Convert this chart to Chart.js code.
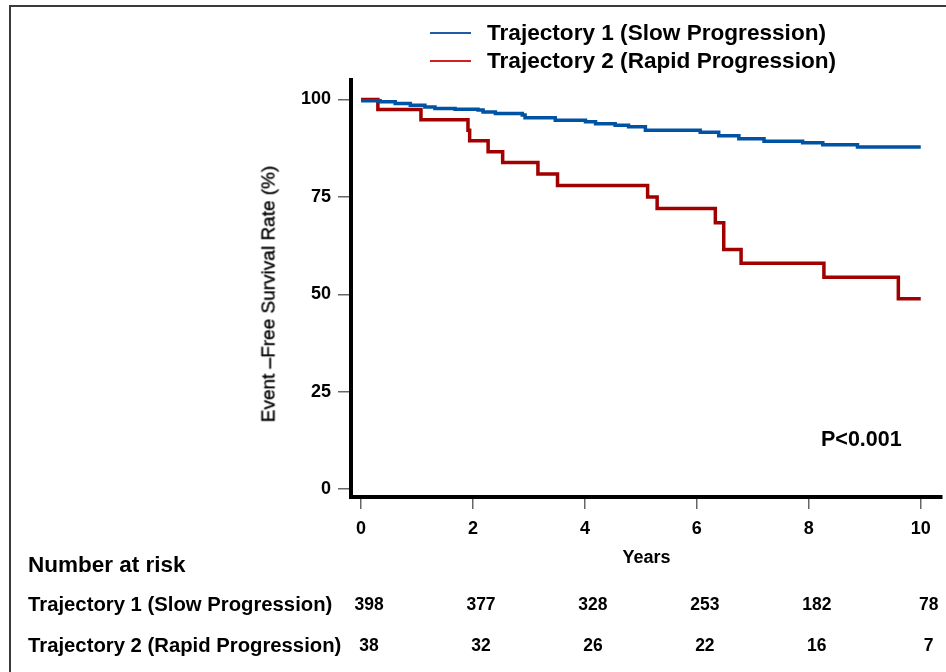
<!DOCTYPE html>
<html>
<head>
<meta charset="utf-8">
<script src="https://cdn.jsdelivr.net/npm/chart.js@4.4.1/dist/chart.umd.min.js"></script>
<style>
  html, body { margin: 0; padding: 0; background: #fff; }
  #wrap { position: relative; width: 946px; height: 672px; overflow: hidden; font-family: "Liberation Sans", Arial, sans-serif; color: #000; }
  #frame { position: absolute; left: 9px; top: 5px; right: -10px; bottom: -10px; border-left: 2px solid #3a3a3a; border-top: 2px solid #3a3a3a; }
  canvas { position: absolute; left: 0; top: 0; }
  .txt { position: absolute; font-weight: bold; white-space: nowrap; line-height: 1; }
  .leg-line { position: absolute; height: 2px; width: 41px; left: 430px; }
  .num { position: absolute; font-weight: bold; font-size: 17.5px; transform: translate(-50%, -50%); white-space: nowrap; }
  #ytitle { position: absolute; left: 268px; top: 294px; font-size: 19px; color: #000; -webkit-text-stroke: 0.35px #000; white-space: nowrap; transform: translate(-50%, -50%) rotate(-90deg); line-height: 1; }
</style>
</head>
<body>
<div id="wrap">
  <div id="frame"></div>
  <canvas id="c" width="946" height="672"></canvas>
  <div id="ytitle">Event –Free Survival Rate (%)</div>
  <div id="legend"></div>
  <div class="txt" id="pval" style="left:821px; top:429px; font-size:21.5px;">P&lt;0.001</div>
  <div class="txt" style="left:28px; top:554px; font-size:22.5px;">Number at risk</div>
  <div id="risk"></div>
</div>
<script>
// ---- Data ----
const seriesNames = ['Trajectory 1 (Slow Progression)', 'Trajectory 2 (Rapid Progression)'];
const xTickValues = [0, 2, 4, 6, 8, 10];
const yTickValues = [0, 25, 50, 75, 100];

// Kaplan-Meier step points (years, event-free survival %)
const slowTimes = [0, 0.34, 0.61, 0.88, 1.14, 1.32, 1.68, 2.09, 2.18, 2.40, 2.88, 2.93, 3.47, 4.01, 4.19, 4.54, 4.78, 5.08, 6.06, 6.39, 6.75, 7.20, 7.89, 8.25, 8.87, 10.0];
const slowSurv  = [99.7, 99.4, 99.0, 98.5, 98.1, 97.7, 97.5, 97.3, 96.8, 96.4, 96.0, 95.3, 94.7, 94.3, 93.8, 93.4, 93.0, 92.1, 91.6, 90.7, 89.9, 89.3, 88.9, 88.4, 87.8, 87.8];

const rapidTimes = [0, 0.30, 1.07, 1.91, 1.94, 2.27, 2.53, 3.16, 3.51, 5.12, 5.29, 6.33, 6.48, 6.79, 8.27, 9.60, 10.0];
const rapidSurv  = [100, 97.4, 94.8, 92.1, 89.4, 86.6, 83.8, 80.9, 77.9, 75.0, 72.0, 68.4, 61.5, 58.0, 54.4, 48.9, 48.9];

const riskTimes = [0, 2, 4, 6, 8, 10];
const riskSlow  = [398, 377, 328, 253, 182, 78];
const riskRapid = [38, 32, 26, 22, 16, 7];

// ---- Styles ----
const FONT = '"Liberation Sans", Arial, sans-serif';
const lineColors = ['#0052A2', '#A00000'];
const legendColors = ['#1F5CA8', '#D42020'];

// Legend (HTML)
const legend = document.getElementById('legend');
seriesNames.forEach((name, i) => {
  const y = i === 0 ? 33 : 61;
  const ln = document.createElement('div');
  ln.className = 'leg-line';
  ln.style.top = (y - 1) + 'px';
  ln.style.background = legendColors[i];
  legend.appendChild(ln);
  const t = document.createElement('div');
  t.className = 'txt';
  t.style.left = '487px';
  t.style.top = (y - 11) + 'px';
  t.style.fontSize = '22.6px';
  t.textContent = name;
  legend.appendChild(t);
});

const chart = new Chart(document.getElementById('c'), {
  type: 'line',
  data: {
    datasets: [
      {
        label: seriesNames[0],
        data: slowTimes.map((t, i) => ({ x: t, y: slowSurv[i] })),
        borderColor: lineColors[0],
        borderWidth: 3.5,
        stepped: true,
        pointRadius: 0,
        fill: false
      },
      {
        label: seriesNames[1],
        data: rapidTimes.map((t, i) => ({ x: t, y: rapidSurv[i] })),
        borderColor: lineColors[1],
        borderWidth: 3.5,
        stepped: true,
        pointRadius: 0,
        fill: false
      }
    ]
  },
  options: {
    responsive: false,
    animation: false,
    events: [],
    layout: { padding: { left: 253, top: 80, right: 4, bottom: 99 } },
    plugins: { legend: { display: false }, tooltip: { enabled: false } },
    scales: {
      x: {
        type: 'linear',
        min: -0.18,
        max: 10.38,
        afterBuildTicks: s => { s.ticks = xTickValues.map(v => ({ value: v })); },
        afterFit: s => { s.height = 76; },
        ticks: { font: { family: FONT, size: 18, weight: 'bold' }, color: '#000', padding: 9, maxRotation: 0, autoSkip: false },
        grid: { drawOnChartArea: false, drawTicks: true, tickLength: 12, color: '#666', lineWidth: 1.5 },
        border: { display: true, color: '#000', width: 4 },
        title: { display: true, text: 'Years', font: { family: FONT, size: 18, weight: 'bold' }, color: '#000', padding: { top: 0, bottom: 4 } }
      },
      y: {
        type: 'linear',
        min: -2,
        max: 105,
        afterBuildTicks: s => { s.ticks = yTickValues.map(v => ({ value: v })); },
        afterFit: s => { s.width = 98; },
        ticks: { font: { family: FONT, size: 18, weight: 'bold' }, color: '#000', padding: 7 },
        grid: { drawOnChartArea: false, drawTicks: true, tickLength: 13, color: '#666', lineWidth: 1.5 },
        border: { display: true, color: '#000', width: 4 },
        title: { display: false }
      }
    }
  }
});

// Number-at-risk table positioned from the chart's x scale
const risk = document.getElementById('risk');
const rowLabelsY = [604, 645];
[riskSlow, riskRapid].forEach((row, r) => {
  const lab = document.createElement('div');
  lab.className = 'txt';
  lab.style.left = '28px';
  lab.style.top = (rowLabelsY[r] - 10) + 'px';
  lab.style.fontSize = '20.3px';
  lab.textContent = seriesNames[r];
  risk.appendChild(lab);
  row.forEach((n, i) => {
    const d = document.createElement('div');
    d.className = 'num';
    d.style.left = (chart.scales.x.getPixelForValue(riskTimes[i]) + 8) + 'px';
    d.style.top = rowLabelsY[r] + 'px';
    d.textContent = n;
    risk.appendChild(d);
  });
});
</script>
</body>
</html>
